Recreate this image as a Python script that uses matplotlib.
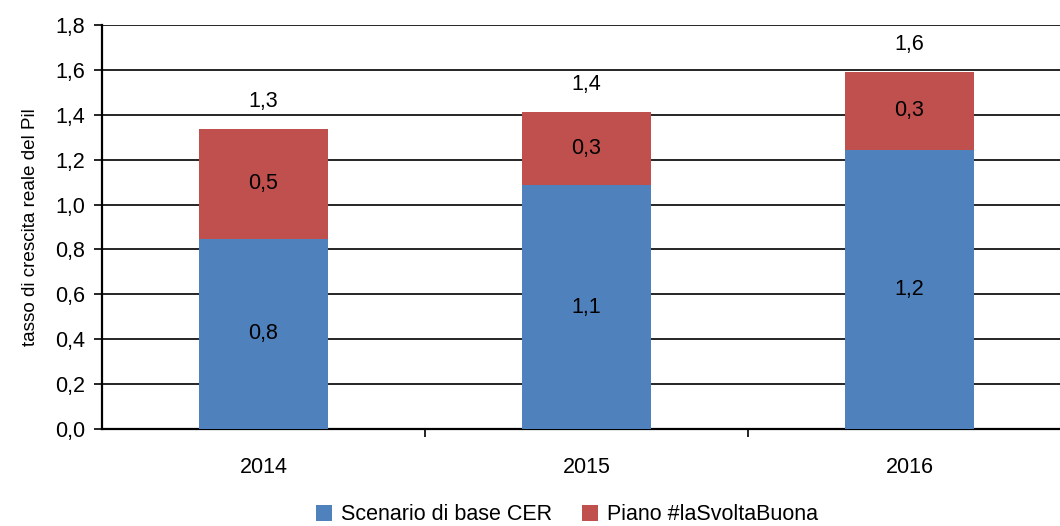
import matplotlib
matplotlib.use("Agg")
import matplotlib.pyplot as plt
from matplotlib.ticker import FixedLocator

plt.rcParams['font.family'] = ['Liberation Sans', 'DejaVu Sans']

years = ["2014", "2015", "2016"]
base = [0.847, 1.087, 1.243]
piano = [0.49, 0.326, 0.348]
series_names = ["Scenario di base CER", "Piano #laSvoltaBuona"]
colors = ["#4F81BD", "#C0504D"]

FS = 15.5

def fmt(v):
    return f"{v:.1f}".replace(".", ",")

fig = plt.figure(figsize=(10.6, 5.26), dpi=100)
ax = fig.add_axes([102/1060, 97/526, 969/1060, 404/526])

x = list(range(len(years)))
b1 = ax.bar(x, base, width=0.40, color=colors[0], label=series_names[0], zorder=3)
b2 = ax.bar(x, piano, width=0.40, bottom=base, color=colors[1], label=series_names[1], zorder=3)

for i in x:
    ax.text(i, base[i] / 2, fmt(base[i]), ha='center', va='center', fontsize=FS, zorder=4)
    ax.text(i, base[i] + piano[i] / 2, fmt(piano[i]), ha='center', va='center', fontsize=FS, zorder=4)
    tot = base[i] + piano[i]
    ax.text(i, tot + 0.12, fmt(tot), ha='center', va='center', fontsize=FS, zorder=4)

ax.set_xlim(-0.5, 2.5)
ax.set_ylim(0, 1.8)
ax.set_yticks([i * 0.2 for i in range(10)])
ax.set_yticklabels([fmt(i * 0.2) for i in range(10)], fontsize=FS)
ax.yaxis.grid(True, color='black', linewidth=1.2, zorder=0)
ax.set_axisbelow(True)

ax.set_xticks(x)
ax.set_xticklabels(years, fontsize=FS)
ax.tick_params(axis='x', which='major', length=0, pad=20)
ax.xaxis.set_minor_locator(FixedLocator([0.5, 1.5]))
ax.tick_params(axis='x', which='minor', length=6, width=1.2, direction='out')
ax.tick_params(axis='y', length=6, width=1.2, direction='out', pad=6)

for s in ['top', 'right']:
    ax.spines[s].set_visible(False)
ax.spines['left'].set_linewidth(1.6)
ax.spines['bottom'].set_linewidth(1.6)

ax.set_ylabel("tasso di crescita reale del Pil", fontsize=13.6, labelpad=12)

leg = fig.legend(handles=[b1, b2], labels=series_names, loc='center',
                 bbox_to_anchor=(567/1060, 1 - 515/526), ncol=2, frameon=False,
                 fontsize=FS, handlelength=0.75, handleheight=0.75, handletextpad=0.4,
                 columnspacing=1.4)

fig.savefig("out.png", dpi=100)
